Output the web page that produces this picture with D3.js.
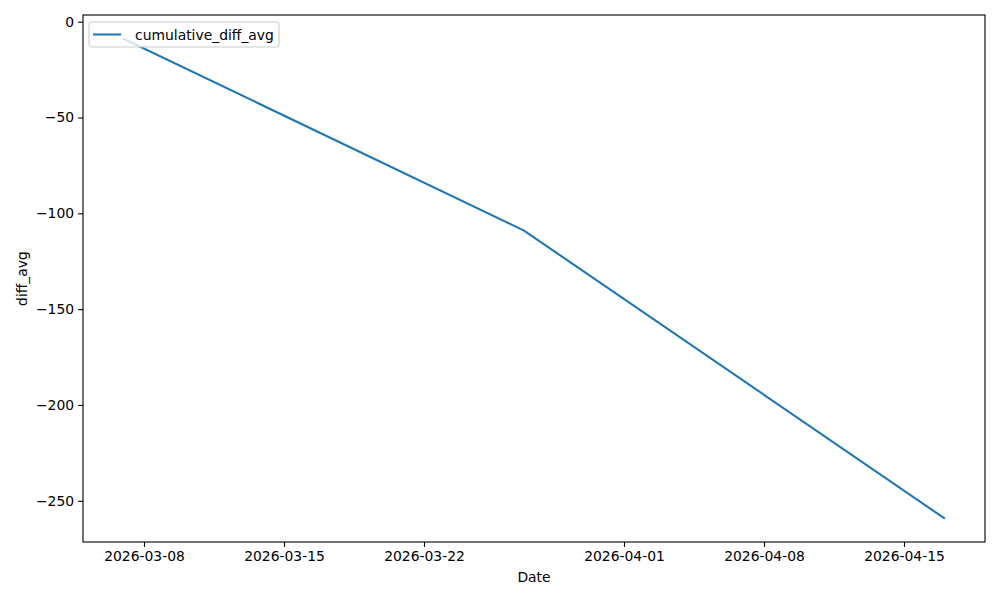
<!DOCTYPE html>
<head>
    <title>cumulative_diff_avg</title>
    <script src="https://d3js.org/d3.v7.min.js"></script>
</head>
<style>
body {
  margin: 0;
  background: #fff;
  font-family: "DejaVu Sans", sans-serif;
}
</style>
<body>
    <svg></svg>
</body>

<script>

    // Data
    var dates = ["2026-03-07", "2026-03-27", "2026-04-17"];
    var cumulativeDiffAvg = [-9, -109, -259];
    var tickDates = ["2026-03-08", "2026-03-15", "2026-03-22", "2026-04-01", "2026-04-08", "2026-04-15"];
    var yTicks = [0, -50, -100, -150, -200, -250];

    var width = 1000;
    var height = 600;
    var margin = {top: 15, right: 15, bottom: 58, left: 83};
    var innerW = width - margin.left - margin.right;
    var innerH = height - margin.top - margin.bottom;
    var color = "#1f77b4";
    var fontSize = "13.9px";
    var pt = 100 / 72; // matplotlib points -> px at dpi 100

    var parse = d3.utcParse("%Y-%m-%d");
    var data = dates.map(function (d, i) { return {date: parse(d), value: cumulativeDiffAvg[i]}; });

    var svg = d3.select('svg')
        .attr('width', width)
        .attr('height', height);

    var g = svg.append('g')
        .attr('transform', 'translate(' + margin.left + ',' + margin.top + ')');

    // matplotlib style 5% padding around the data
    var xExt = d3.extent(data, function (d) { return d.date; });
    var xPad = (xExt[1] - xExt[0]) * 0.05;
    var x = d3.scaleUtc()
        .domain([new Date(+xExt[0] - xPad), new Date(+xExt[1] + xPad)])
        .range([0, innerW]);

    var yExt = d3.extent(data, function (d) { return d.value; });
    var yPad = (yExt[1] - yExt[0]) * 0.05;
    var y = d3.scaleLinear()
        .domain([yExt[0] - yPad, yExt[1] + yPad])
        .range([innerH, 0]);

    var xAxis = d3.axisBottom(x)
        .tickValues(tickDates.map(parse))
        .tickSize(3.5 * pt)
        .tickPadding(4)
        .tickFormat(d3.utcFormat("%Y-%m-%d"));

    var yAxis = d3.axisLeft(y)
        .tickValues(yTicks)
        .tickSize(3.5 * pt)
        .tickPadding(4)
        .tickFormat(function (d) { return d < 0 ? "\u2212" + Math.abs(d) : d; });

    g.append('g')
        .attr('transform', 'translate(0,' + innerH + ')')
        .call(xAxis);

    g.append('g')
        .call(yAxis);

    g.selectAll('.domain').remove();
    g.selectAll('.tick line').attr('stroke', '#000').attr('stroke-width', 0.8 * pt);
    g.selectAll('.tick text')
        .attr('fill', '#000')
        .style('font-family', '"DejaVu Sans", sans-serif')
        .style('font-size', fontSize);

    // The line
    var line = d3.line()
        .x(function (d) { return x(d.date); })
        .y(function (d) { return y(d.value); });

    g.append('path')
        .datum(data)
        .attr('d', line)
        .attr('fill', 'none')
        .attr('stroke', color)
        .attr('stroke-width', 1.5 * pt)
        .attr('stroke-linecap', 'square');

    // Frame
    g.append('rect')
        .attr('width', innerW)
        .attr('height', innerH)
        .attr('fill', 'none')
        .attr('stroke', '#000')
        .attr('stroke-width', 0.8 * pt);

    // Axis labels
    svg.append('text')
        .attr('x', margin.left + innerW / 2)
        .attr('y', 582)
        .attr('text-anchor', 'middle')
        .style('font-size', fontSize)
        .text('Date');

    svg.append('text')
        .attr('transform', 'translate(27,' + (margin.top + innerH / 2) + ')rotate(-90)')
        .attr('text-anchor', 'middle')
        .style('font-size', fontSize)
        .text('diff_avg');

    // Legend
    var legend = g.append('g')
        .attr('transform', 'translate(6,7)');

    legend.append('rect')
        .attr('width', 190)
        .attr('height', 25)
        .attr('rx', 3)
        .attr('fill', '#fff')
        .attr('fill-opacity', 0.8)
        .attr('stroke', '#ccc')
        .attr('stroke-width', 0.8 * pt);

    legend.append('line')
        .attr('x1', 4).attr('x2', 32)
        .attr('y1', 12.5).attr('y2', 12.5)
        .attr('stroke', color)
        .attr('stroke-width', 1.5 * pt);

    legend.append('text')
        .attr('x', 46)
        .attr('y', 17.5)
        .style('font-size', fontSize)
        .text('cumulative_diff_avg');

</script>
